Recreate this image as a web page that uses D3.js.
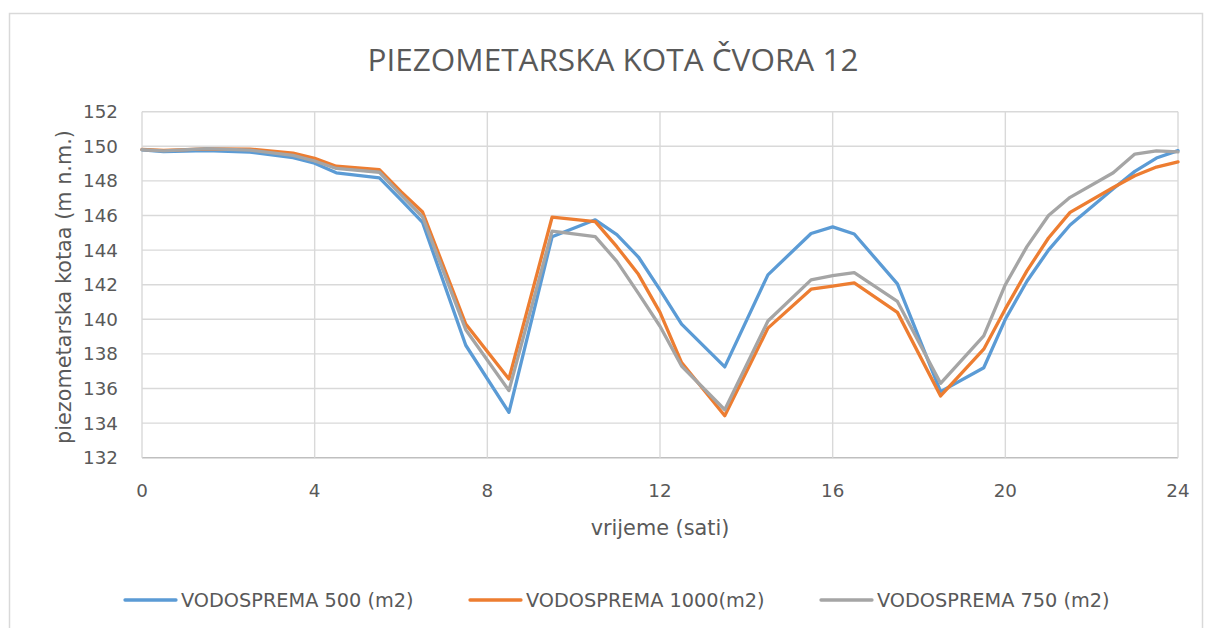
<!DOCTYPE html>
<html><head><meta charset="utf-8">
<script src="https://cdn.jsdelivr.net/npm/d3@7/dist/d3.min.js"></script>
<style>body{margin:0;background:#fff}svg{display:block}text{font-family:"DejaVu Sans",sans-serif;fill:#595959}text.title{font-family:"Open Sans",sans-serif}</style>
</head><body><svg id="c" width="1208" height="628"></svg>
<script>
const title = "PIEZOMETARSKA KOTA ČVORA 12";
const xLabel = "vrijeme (sati)";
const yLabel = "piezometarska kotaa (m n.m.)";
const xTicks = [0,4,8,12,16,20,24];
const yTicks = [132,134,136,138,140,142,144,146,148,150,152];
const seriesNames = ["VODOSPREMA 500 (m2)","VODOSPREMA 1000(m2)","VODOSPREMA 750 (m2)"];
const seriesColors = ["#5B9BD5","#ED7D31","#A5A5A5"];
const hours = [0,0.5,1.5,2.5,3.5,4,4.5,5.5,6,6.5,7.5,8.5,9.5,10.5,11,11.5,12,12.5,13.5,14.5,15.5,16,16.5,17.5,18.5,19.5,20,20.5,21,21.5,22.5,23,23.5,24];
const v500 = [149.8,149.7,149.75,149.67,149.34,149.02,148.47,148.17,146.9,145.6,138.5,134.62,144.77,145.75,144.9,143.6,141.7,139.72,137.25,142.57,144.96,145.34,144.93,142.05,135.82,137.2,140.0,142.2,144.0,145.45,147.55,148.55,149.32,149.75];
const v1000 = [149.82,149.76,149.85,149.84,149.6,149.3,148.85,148.65,147.38,146.2,139.73,136.55,145.9,145.65,144.2,142.6,140.4,137.5,134.42,139.49,141.74,141.92,142.1,140.4,135.57,138.27,140.6,142.8,144.7,146.18,147.62,148.3,148.8,149.1];
const v750 = [149.8,149.74,149.86,149.78,149.48,149.15,148.72,148.5,147.19,145.92,139.4,135.88,145.1,144.78,143.35,141.5,139.6,137.3,134.77,139.9,142.28,142.52,142.7,141.03,136.3,139.04,142.0,144.2,146.0,147.05,148.47,149.55,149.74,149.68];
const seriesValues = [v500, v1000, v750];

const svg = d3.select("#c");
svg.append("rect").attr("x",9.5).attr("y",13.5).attr("width",1193).attr("height",700)
  .attr("fill","#fff").attr("stroke","#d9d9d9").attr("stroke-width",1.5);

const x = d3.scaleLinear().domain([0,24]).range([142,1178]);
const y = d3.scaleLinear().domain([132,152]).range([457.7,111.7]);

// gridlines
const g = svg.append("g");
g.selectAll("line.h").data(yTicks).join("line").attr("class","h")
  .attr("x1",x(0)).attr("x2",x(24)).attr("y1",d=>y(d)).attr("y2",d=>y(d))
  .attr("stroke",d=>d===132?"#bfbfbf":"#d9d9d9").attr("stroke-width",1.4);
g.selectAll("line.v").data(xTicks).join("line").attr("class","v")
  .attr("y1",y(132)).attr("y2",y(152)).attr("x1",d=>x(d)).attr("x2",d=>x(d))
  .attr("stroke","#d9d9d9").attr("stroke-width",1.4);

// tick labels
svg.append("g").selectAll("text").data(yTicks).join("text")
  .attr("x",118).attr("y",d=>y(d)).attr("dy","0.36em").attr("text-anchor","end")
  .attr("font-size",18.3).text(d=>d);
svg.append("g").selectAll("text").data(xTicks).join("text")
  .attr("x",d=>x(d)).attr("y",490).attr("dy","0.36em").attr("text-anchor","middle")
  .attr("font-size",18.3).text(d=>d);

// titles
svg.append("text").attr("class","title").attr("x",613).attr("y",71).attr("text-anchor","middle")
  .attr("font-size",31.5).text(title);
svg.append("text").attr("x",660).attr("y",528).attr("dy","0.36em").attr("text-anchor","middle")
  .attr("font-size",20.8).text(xLabel);
svg.append("text").attr("transform","translate(63,287) rotate(-90)").attr("dy","0.36em")
  .attr("text-anchor","middle").attr("font-size",20.8).text(yLabel);

// lines
const line = d3.line().x((d,i)=>x(hours[i])).y(d=>y(d));
svg.append("g").selectAll("path").data(seriesValues).join("path")
  .attr("d",d=>line(d)).attr("fill","none")
  .attr("stroke",(d,i)=>seriesColors[i]).attr("stroke-width",3.3)
  .attr("stroke-linejoin","round").attr("stroke-linecap","round");

// legend
const legX = [125,470,821];
const leg = svg.append("g").selectAll("g").data(seriesNames).join("g")
  .attr("transform",(d,i)=>`translate(${legX[i]},600)`);
leg.append("line").attr("x1",0).attr("x2",51).attr("y1",0).attr("y2",0)
  .attr("stroke",(d,i)=>seriesColors[i]).attr("stroke-width",3.3).attr("stroke-linecap","round");
leg.append("text").attr("x",56).attr("y",0).attr("dy","0.36em").attr("font-size",19.3).text(d=>d);
</script></body></html>
